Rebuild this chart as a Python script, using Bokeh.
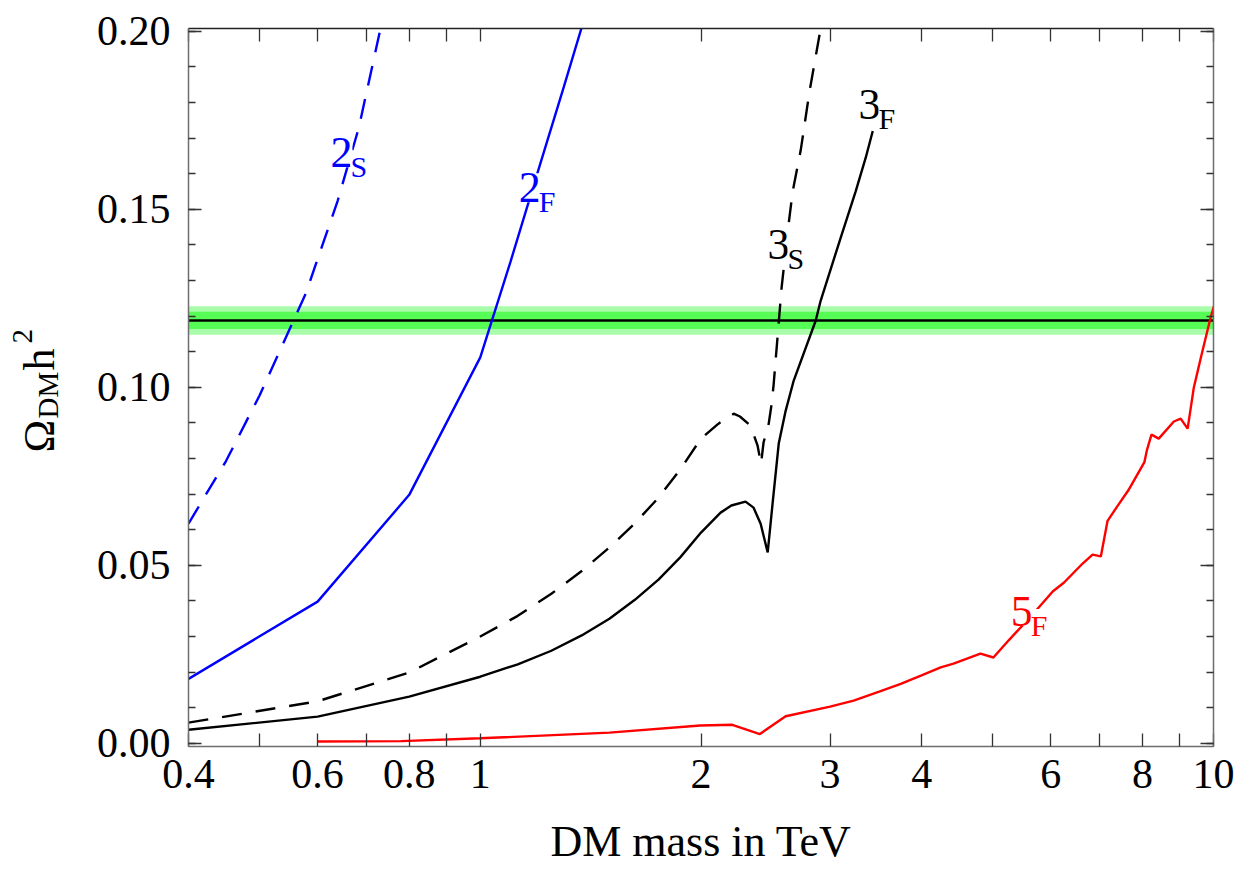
import numpy as np
from bokeh.plotting import figure
from bokeh.layouts import row
from bokeh.models import (FixedTicker, LogAxis, LinearAxis, Label, BoxAnnotation,
                          Span, Range1d)
from bokeh.core.properties import value
from bokeh.embed import file_html
from bokeh.resources import INLINE

# ---------------- data ----------------
# 2_F : blue solid
m_2F = [0.4, 0.6, 0.8, 1.0, 1.1, 1.2, 1.3, 1.38]
om_2F = [0.0181, 0.0398, 0.0698, 0.1084, 0.1354, 0.1610, 0.1844, 0.2022]

# 2_S : blue dashed
m_2S = [0.4, 0.45, 0.5, 0.55, 0.578, 0.639, 0.683, 0.731]
om_2S = [0.0617, 0.0793, 0.0977, 0.1165, 0.1263, 0.1524, 0.1730, 0.2008]

# 3_S : black dashed
m_3S = [0.4, 0.6, 0.8, 1.0, 1.125, 1.25, 1.375, 1.5, 1.625, 1.75, 1.875, 2.0, 2.113, 2.216,
        2.26, 2.337, 2.389, 2.415, 2.434, 2.474, 2.497, 2.513, 2.576, 2.634, 2.667, 2.735,
        2.813, 2.912]
om_3S = [0.0058, 0.0118, 0.0199, 0.0300, 0.0358, 0.0420, 0.0484, 0.0550, 0.0618, 0.0690,
         0.0770, 0.0856, 0.0898, 0.0926, 0.0918, 0.0892, 0.0836, 0.0785, 0.0845, 0.0898,
         0.0954, 0.1010, 0.1280, 0.1460, 0.1550, 0.1665, 0.1833, 0.2008]

# 3_F : black solid
m_3F = [0.4, 0.6, 0.8, 1.0, 1.125, 1.25, 1.375, 1.5, 1.625, 1.75, 1.875, 2.0, 2.127, 2.2,
        2.3, 2.359, 2.412, 2.466, 2.504, 2.553, 2.609, 2.676, 2.867, 2.912, 3.101, 3.25,
        3.355, 3.43]
om_3F = [0.0038, 0.0075, 0.0131, 0.0187, 0.0222, 0.0260, 0.0303, 0.0350, 0.0403, 0.0460,
         0.0523, 0.0592, 0.0648, 0.0668, 0.0679, 0.0662, 0.0617, 0.0536, 0.0673, 0.0842,
         0.0934, 0.1019, 0.1187, 0.1243, 0.1420, 0.1550, 0.1645, 0.1720]

# 5_F : red solid
m_5F = [0.6, 0.78, 1.0, 1.5, 1.995, 2.207, 2.406, 2.609, 3.0, 3.23, 3.5, 3.745, 3.99,
        4.246, 4.42, 4.81, 5.01, 5.26, 5.6, 6.04, 6.25, 6.63, 6.84, 7.02, 7.17, 7.4, 7.65,
        8.05, 8.11, 8.23, 8.42, 8.83, 9.02, 9.22, 9.4, 9.61, 9.91, 10.13]
om_5F = [0.0005, 0.0006, 0.0014, 0.0030, 0.0050, 0.0052, 0.0026, 0.0076, 0.0103, 0.0120,
         0.0145, 0.0167, 0.0190, 0.0213, 0.0224, 0.0252, 0.0241, 0.0290, 0.0350, 0.0427,
         0.0451, 0.0505, 0.0530, 0.0525, 0.0625, 0.0667, 0.0710, 0.0790, 0.0822, 0.0867,
         0.0856, 0.0904, 0.0912, 0.0884, 0.0999, 0.1083, 0.1196, 0.1263]

# Planck band
planck_center = 0.1188
planck_inner = 0.0024
planck_outer = 0.0040

# ticks
x_tick_values = [0.4, 0.5, 0.6, 0.7, 0.8, 0.9, 1, 2, 3, 4, 5, 6, 7, 8, 9, 10]
x_tick_labels = ["0.4", "", "0.6", "", "0.8", "", "1", "2", "3", "4", "", "6", "", "8", "", "10"]
y_tick_values = [0.0, 0.05, 0.10, 0.15, 0.20]
y_tick_labels = ["0.00", "0.05", "0.10", "0.15", "0.20"]
y_minor_values = [round(0.01 * i, 2) for i in range(0, 21)]

# curve names: (main, subscript, colour, mass, omega)
curve_names = [("2", "S", "blue", 0.6246, 0.1614),
               ("2", "F", "blue", 1.128, 0.1516),
               ("3", "S", "black", 2.465, 0.1356),
               ("3", "F", "black", 3.28, 0.1749),
               ("5", "F", "red", 5.29, 0.0325)]

# y-axis title pieces: text, font size
ytitle_text = ["\u03a9", "DM", "h", "2"]
ytitle_size = ["44px", "29px", "44px", "29px"]

FONT = "Liberation Serif"
TITLE_W = 80
FRAME_TOP, FRAME_BOTTOM = 28, 746

# ---------------- left strip with the rotated y title ----------------
# its frame is aligned with the main frame by the row layout, so its y range is
# expressed in page pixels of that frame
yfig = figure(width=TITLE_W, height=869, x_range=Range1d(0, TITLE_W),
              y_range=Range1d(FRAME_BOTTOM, FRAME_TOP),
              output_backend="svg", toolbar_location=None,
              min_border_left=0, min_border_right=0, min_border_top=FRAME_TOP,
              min_border_bottom=869 - FRAME_BOTTOM)
yfig.axis.visible = False
yfig.grid.visible = False
yfig.outline_line_color = None
yfig.background_fill_color = "white"
yfig.border_fill_color = "white"
ytitle_sx = [39, 47, 39, 22]      # baseline positions (px in strip)
ytitle_sy = [452, 418, 370, 343]  # start of each piece (page px)
yfig.text(x=ytitle_sx, y=ytitle_sy, text=ytitle_text, angle=np.pi / 2,
          text_font=value(FONT), text_font_size=ytitle_size, text_color="black",
          text_align="left", text_baseline="alphabetic")

# ---------------- main plot ----------------
p = figure(width=1258 - TITLE_W, height=869, x_axis_type="log",
           x_range=Range1d(0.4, 10.0), y_range=Range1d(-0.0009, 0.2008),
           output_backend="svg", toolbar_location=None,
           min_border_left=188 - TITLE_W, min_border_right=45,
           min_border_top=FRAME_TOP, min_border_bottom=869 - FRAME_BOTTOM)
p.outline_line_color = None
p.xgrid.visible = False
p.ygrid.visible = False
p.background_fill_color = "white"
p.border_fill_color = "white"

# Planck band
p.add_layout(BoxAnnotation(bottom=planck_center - planck_outer, top=planck_center + planck_outer,
                           fill_color="#a9fca9", fill_alpha=1.0, line_color=None, level="underlay"))
p.add_layout(BoxAnnotation(bottom=planck_center - planck_inner, top=planck_center + planck_inner,
                           fill_color="#55fd55", fill_alpha=1.0, line_color=None, level="underlay"))
p.add_layout(Span(location=planck_center, dimension="width", line_color="black",
                  line_width=2.5, level="underlay"))

LW = 2.4
p.line(m_2S, om_2S, line_color="blue", line_width=LW, line_dash="20 14")
p.line(m_2F, om_2F, line_color="blue", line_width=LW)
p.line(m_3S, om_3S, line_color="black", line_width=LW, line_dash="20 14")
p.line(m_3F, om_3F, line_color="black", line_width=LW)
p.line(m_5F, om_5F, line_color="red", line_width=LW)

# axes
xt = FixedTicker(ticks=x_tick_values)
yt = FixedTicker(ticks=y_tick_values, minor_ticks=y_minor_values)
x_over = {v: l for v, l in zip(x_tick_values, x_tick_labels)}
y_over = {v: l for v, l in zip(y_tick_values, y_tick_labels)}

top = LogAxis()
right = LinearAxis()
p.add_layout(top, "above")
p.add_layout(right, "right")

for ax in [p.below[0], top]:
    ax.ticker = xt
for ax in [p.left[0], right]:
    ax.ticker = yt

for ax in [p.below[0], top, p.left[0], right]:
    ax.major_tick_in = 13
    ax.major_tick_out = 0
    ax.minor_tick_in = 7
    ax.minor_tick_out = 0
    ax.major_tick_line_color = "#333333"
    ax.minor_tick_line_color = "#333333"
    ax.major_tick_line_width = 1.3
    ax.minor_tick_line_width = 1.3
    ax.axis_line_width = 1.5
    ax.axis_line_color = "#6e6e6e"
    ax.major_label_text_font = FONT
    ax.major_label_text_font_size = "42px"
    ax.major_label_text_color = "black"

top.axis_line_color = "#222222"
for ax in [top, right]:
    ax.major_label_text_font_size = "0px"
    ax.major_label_text_alpha = 0

p.below[0].major_label_overrides = x_over
p.left[0].major_label_overrides = y_over
top.major_label_overrides = {v: "" for v in x_tick_values}
right.major_label_overrides = {v: "" for v in y_tick_values}

p.below[0].major_label_standoff = 13
p.left[0].major_label_standoff = 18
p.below[0].axis_label = "DM mass in TeV"
p.below[0].axis_label_text_font = FONT
p.below[0].axis_label_text_font_style = "normal"
p.below[0].axis_label_text_font_size = "44px"
p.below[0].axis_label_text_color = "black"
p.below[0].axis_label_standoff = 26

# curve name labels
for main, sub, col, mx, my in curve_names:
    p.add_layout(Label(x=mx, y=my, y_offset=16, text=main, text_font=FONT,
                       text_font_size="44px", text_color=col, text_align="left",
                       text_baseline="alphabetic",
                       background_fill_color="white", background_fill_alpha=1.0))
    p.add_layout(Label(x=mx, y=my, x_offset=20, y_offset=2, text=sub, text_font=FONT,
                       text_font_size="30px", text_color=col, text_align="left",
                       text_baseline="alphabetic",
                       background_fill_color="white", background_fill_alpha=1.0))

layout = row(yfig, p, spacing=0)
open("out.html", "w").write(file_html(layout, INLINE))
